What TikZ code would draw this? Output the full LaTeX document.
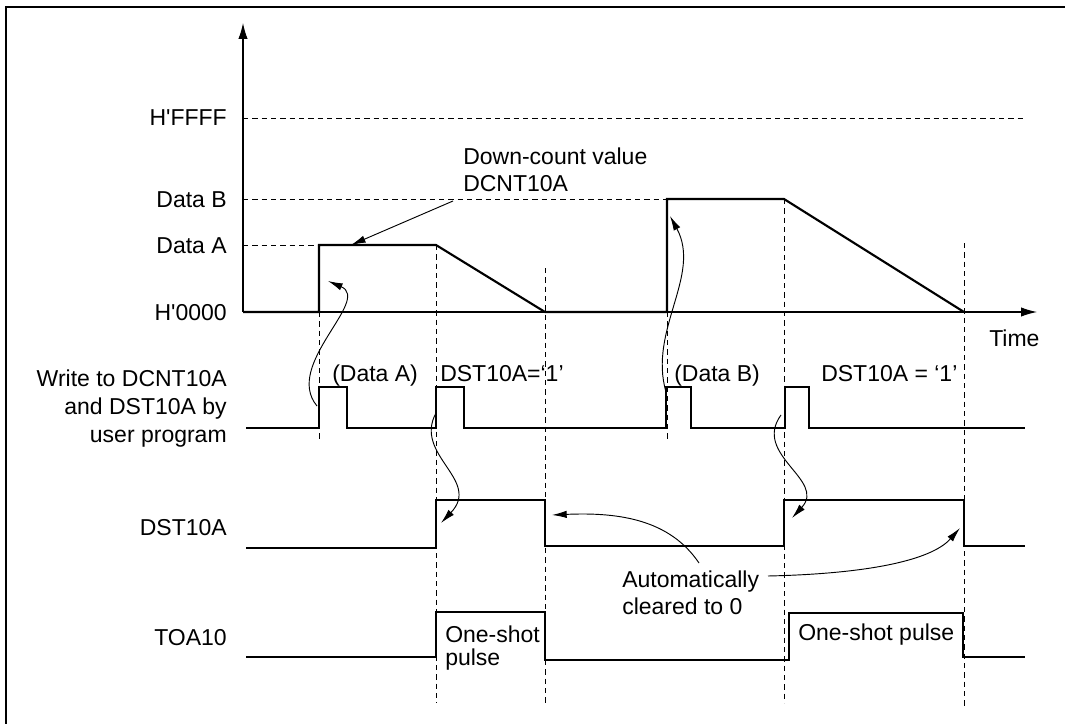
\documentclass[tikz,border=0pt]{standalone}
\usepackage{fontspec}
\setmainfont{Liberation Sans}
\usetikzlibrary{arrows.meta}
\begin{document}
\begin{tikzpicture}[x=0.75pt,y=-0.75pt,
  lbl/.style={inner sep=0pt, font=\fontsize{17.25}{20.25}\selectfont},
  wave/.style={line width=1.6pt, line join=miter},
  guide/.style={line width=0.7pt, dash pattern=on 4pt off 3pt},
  axis/.style={line width=0.8pt},
  axarrow/.style={axis, -{Latex[length=12pt,width=7pt]}},
  curvearrow/.style={line width=0.7pt, -{Latex[length=11pt,width=5.5pt]}},
  frame/.style={line width=1.5pt}
]
\useasboundingbox (0,0) rectangle (1065,724);
% frame (cut off on right and bottom)
\draw[frame] (6,724) -- (6,7) -- (1065,7);

% guide lines
\draw[guide] (243,118) -- (1024,118);
\draw[guide] (243,199) -- (667,199);
\draw[guide] (243,245) -- (319,245);
\draw[guide] (319,312) -- (319,442);
\draw[guide] (436,245) -- (436,703);
\draw[guide] (545,268) -- (545,703);
\draw[guide] (667,312) -- (667,442);
\draw[guide] (784,199) -- (784,703);
\draw[guide] (964,243) -- (964,707);

% axes
\coordinate (origin) at (243,312);
\coordinate (ytip) at (243,23);
\coordinate (xtip) at (1037,312);
\draw[axarrow] (origin) -- (ytip);
\draw[axarrow] (origin) -- (xtip);

% axis labels
\node[lbl, anchor=base east] (lffff) at (227,126) {H\textquotesingle FFFF};
\node[lbl, anchor=base east] (ldb) at (227,207) {Data B};
\node[lbl, anchor=base east] (lda) at (227,253) {Data A};
\node[lbl, anchor=base east] (l0000) at (227,320) {H\textquotesingle 0000};
\node[lbl, anchor=base west] (ltime) at (989,346) {Time};

% counter waveform
\draw[wave] (243,312) -- (319,312) -- (319,245) -- (436,245) -- (545,312)
  -- (667,312) -- (667,199) -- (784,199) -- (964,312);

% write signal
\draw[wave] (246,428) -- (319,428) -- (319,387) -- (347,387) -- (347,428)
  -- (436,428) -- (436,387) -- (464,387) -- (464,428)
  -- (666,428) -- (666,387) -- (691,387) -- (691,428)
  -- (785,428) -- (785,387) -- (809,387) -- (809,428) -- (1025,428);

% DST10A signal
\draw[wave] (246,548) -- (436,548) -- (436,500) -- (545,500) -- (545,546)
  -- (784,546) -- (784,500) -- (964,500) -- (964,546) -- (1025,546);

% TOA10 signal
\draw[wave] (246,657) -- (436,657) -- (436,612) -- (545,612) -- (545,660)
  -- (789,660) -- (789,613) -- (963,613) -- (963,657) -- (1025,657);

% row labels
\node[lbl, anchor=north east, align=right,
      font=\fontsize{17.25}{21}\selectfont] (lwrite) at (227,370)
  {Write to DCNT10A\\and DST10A by\\user program};
\node[lbl, anchor=base east] (ldst) at (227,535) {DST10A};
\node[lbl, anchor=base east] (ltoa) at (227,645) {TOA10};

% pulse labels
\node[lbl, anchor=base west] (pda) at (332,381) {(Data A)};
\node[lbl, anchor=base west] (pd1) at (440,381) {DST10A=‘1’};
\node[lbl, anchor=base west] (pdb) at (674,381) {(Data B)};
\node[lbl, anchor=base west] (pd2) at (821,381) {DST10A = ‘1’};

\node[lbl, anchor=north west, align=left] (dcnt) at (463,148)
  {Down-count value\\DCNT10A};
\node[lbl, anchor=north west, align=left,
      font=\fontsize{17.25}{17.25}\selectfont] (os1) at (445,626)
  {One-shot\\pulse};
\node[lbl, anchor=base west] (os2) at (798,640) {One-shot pulse};
\node[lbl, anchor=north west, align=left] (auto) at (622,571)
  {Automatically\\cleared to 0};

% arrows
\coordinate (dcs) at (453,201);
\coordinate (dct) at (351,245);
\draw[curvearrow] (dcs) -- (dct);

\coordinate (wa) at (317,406);
\coordinate (ra) at (328,281);
\draw[curvearrow] (wa) .. controls (283,365) and (372,300) .. (ra);

\coordinate (w1) at (436,413);
\coordinate (d1) at (441,523);
\draw[curvearrow] (w1) .. controls (413,455) and (482,480) .. (d1);

\coordinate (wb) at (666,392);
\coordinate (rb) at (670,216);
\draw[curvearrow] (wb) .. controls (648,330) and (702,275) .. (rb);

\coordinate (w2) at (781,415);
\coordinate (d2) at (792,518);
\draw[curvearrow] (w2) .. controls (752,455) and (827,480) .. (d2);

\coordinate (al) at (699,563);
\coordinate (alt) at (552,515);
\draw[curvearrow] (al) .. controls (670,520) and (620,512) .. (alt);

\coordinate (ar) at (768,576);
\coordinate (art) at (960,528);
\draw[curvearrow] (ar) .. controls (860,574) and (930,562) .. (art);
\end{tikzpicture}
\end{document}
